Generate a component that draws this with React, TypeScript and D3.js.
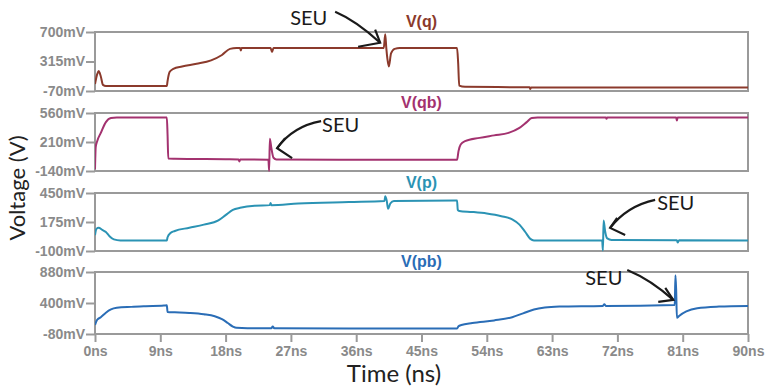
import React, { useEffect, useRef } from "react";
import * as d3 from "d3";

// [time ns, voltage mV]
const qPoints: [number, number][] = [
  [0, 20], [0.3, 150], [0.5, 190], [0.8, 120], [1.1, 10], [1.5, -5], [9.9, -5], [10.0, 60],
  [10.3, 180], [10.8, 220], [12, 250], [14, 285], [16, 330], [17.5, 400], [18.6, 480], [19.5, 490],
  [20.0, 490], [20.1, 460], [20.2, 490], [24.2, 490], [24.4, 440], [24.6, 490], [39.8, 490],
  [40.0, 670], [40.15, 490], [40.3, 350], [40.5, 250], [40.8, 420], [41.3, 480], [42, 490],
  [49.9, 490], [50.05, 300], [50.2, 0], [51, -15], [59.9, -22], [60, -45], [60.1, -25], [90, -25],
];
const qbPoints: [number, number][] = [
  [0, -120], [0.1, 150], [0.3, 220], [0.8, 320], [1.5, 450], [2.2, 500], [3, 505], [9.9, 505],
  [10.0, 300], [10.1, 10], [11, 8], [18, 2], [19.8, 0], [19.9, -25], [20.0, 0], [23.9, -3],
  [24.0, -140], [24.1, 250], [24.3, 140], [24.6, 20], [25, 0], [40, -4], [49.9, -5], [50.1, 100],
  [50.4, 180], [51, 220], [53, 260], [55, 290], [57, 320], [58.5, 380], [59.5, 450], [60.2, 500],
  [61, 505], [70.4, 505], [70.5, 490], [70.6, 505], [80.1, 505], [80.2, 470], [80.3, 505], [90, 505],
];
const pPoints: [number, number][] = [
  [0, 50], [0.2, 110], [0.5, 120], [1, 100], [1.5, 80], [2, 40], [2.6, 10], [3.5, 0], [9.9, 0],
  [10.0, 30], [10.4, 70], [11, 90], [13, 120], [15, 150], [17, 190], [18, 240], [19, 290], [20, 310],
  [22, 330], [24.1, 335], [24.2, 355], [24.3, 335], [28, 350], [35, 365], [39.9, 375], [40.0, 420],
  [40.2, 380], [40.4, 300], [40.7, 350], [41.2, 375], [49.9, 378], [50.0, 290], [50.2, 280],
  [52, 270], [54, 255], [56, 230], [57.5, 200], [58.5, 150], [59.3, 80], [60, 15], [60.5, 0],
  [69.9, 0], [70.0, -95], [70.1, 190], [70.3, 90], [70.6, 20], [71.2, 5], [80.2, 3], [80.3, -20],
  [80.5, 3], [90, 0],
];
const pbPoints: [number, number][] = [
  [0, 60], [0.3, 140], [0.8, 180], [1.5, 250], [2.2, 300], [3, 325], [5, 340], [7, 350], [9.5, 360],
  [9.9, 365], [10.0, 260], [11, 255], [13, 245], [15, 225], [16.5, 195], [17.5, 150], [18.3, 90],
  [19, 35], [19.5, 15], [21, 10], [24.3, 10], [24.5, 35], [24.7, 10], [35, 5], [49.9, 5], [50.1, 40],
  [50.5, 60], [52, 90], [55, 130], [57.5, 180], [59, 240], [60.5, 300], [62, 330], [64, 345],
  [70, 355], [70.2, 380], [70.4, 355], [79.9, 370], [80.0, 830], [80.1, 600], [80.2, 170],
  [80.5, 200], [81.5, 270], [83, 320], [86, 345], [90, 355],
];

const seriesNames = ["V(q)", "V(qb)", "V(p)", "V(pb)"];
const seriesData = [qPoints, qbPoints, pPoints, pbPoints];
const yTicks = [[-70, 315, 700], [-140, 210, 560], [-100, 175, 450], [-80, 400, 880]];
const xTicks = [0, 9, 18, 27, 36, 45, 54, 63, 72, 81, 90];

// SEU markers: panel index, arrow tip [ns, mV]
const seuPanel = [0, 1, 2, 3];
const seuTip: [number, number][] = [[39.3, 560], [25.1, 136], [71.0, 119], [79.7, 448]];

const colors = ["#8b3a2c", "#a3326f", "#2b93b4", "#2a6db6"];
const panelBox = [[32, 91], [113, 171], [193, 251], [272, 334]];
const left = 95, right = 748;

// pixel shapes of the hand drawn arrows, relative to tip
const seuShape = [
  { text: [-90, -18], shaft: "M-45,-31 Q-24,-22 0,0", head: "M-5,-13 L0,0 L-22,4" },
  { text: [45, -16], shaft: "M44,-27 Q16,-22 0,0", head: "M8,-10 L0,0 L15,10" },
  { text: [47, -18], shaft: "M45,-28 Q17,-22 0,0", head: "M7,-10 L0,0 L15,7" },
  { text: [-88, -15], shaft: "M-46,-30 Q-22,-20 0,0", head: "M-8,-12 L0,0 L-15,2" },
];

const tickFont = "bold 14px 'Liberation Sans', Arial, sans-serif";

export default function App() {
  const ref = useRef<SVGSVGElement>(null);

  useEffect(() => {
    const svg = d3.select(ref.current);
    svg.selectAll("*").remove();
    const x = d3.scaleLinear().domain([0, 90]).range([left, right]);
    const defs = svg.append("defs");
    const ys: d3.ScaleLinear<number, number>[] = [];

    seriesData.forEach((data, i) => {
      const [top, bottom] = panelBox[i];
      const ticks = yTicks[i];
      const y = d3.scaleLinear().domain([ticks[0], ticks[2]]).range([bottom, top]);
      ys.push(y);
      const g = svg.append("g");

      defs.append("clipPath").attr("id", "clip" + i)
        .append("rect").attr("x", left).attr("y", top - 1).attr("width", right - left).attr("height", bottom - top + 2);

      g.append("rect")
        .attr("x", left).attr("y", top).attr("width", right - left).attr("height", bottom - top)
        .attr("fill", "none").attr("stroke", "#9a9a9a").attr("stroke-width", 2);

      const ya = g.append("g").attr("transform", `translate(${left},0)`)
        .call(d3.axisLeft(y).tickValues(ticks).tickSize(9).tickFormat(d => `${d}mV`));
      ya.select(".domain").remove();
      ya.selectAll("line").attr("stroke", "#9a9a9a").attr("stroke-width", 2);
      ya.selectAll("text").attr("x", -10).attr("fill", "#8a8a8a").style("font", tickFont);

      g.append("path").datum(data)
        .attr("clip-path", `url(#clip${i})`)
        .attr("fill", "none").attr("stroke", colors[i]).attr("stroke-width", 2)
        .attr("d", d3.line().x(d => x(d[0])).y(d => y(d[1])).curve(d3.curveMonotoneX));

      g.append("text").attr("x", (left + right) / 2).attr("y", top - 5)
        .attr("text-anchor", "middle").attr("fill", colors[i])
        .style("font", "bold 16px 'Liberation Sans', Arial, sans-serif")
        .text(seriesNames[i]);
    });

    const xa = svg.append("g").attr("transform", `translate(0,${panelBox[3][1]})`)
      .call(d3.axisBottom(x).tickValues(xTicks).tickSize(8).tickFormat(d => `${d}ns`));
    xa.select(".domain").remove();
    xa.selectAll("line").attr("stroke", "#9a9a9a").attr("stroke-width", 2);
    xa.selectAll("text").attr("y", 12).attr("fill", "#8a8a8a").style("font", tickFont);

    seuTip.forEach((tip, k) => {
      const p = seuPanel[k];
      const tx = x(tip[0]), ty = ys[p](tip[1]);
      const s = seuShape[k];
      const g = svg.append("g").attr("transform", `translate(${tx},${ty})`);
      g.append("path").attr("d", s.shaft).attr("fill", "none").attr("stroke", "#1a1a1a").attr("stroke-width", 2.2);
      g.append("path").attr("d", s.head).attr("fill", "none").attr("stroke", "#1a1a1a").attr("stroke-width", 2.2);
      g.append("text").attr("x", s.text[0]).attr("y", s.text[1]).attr("fill", "#1a1a1a")
        .style("font", "20px Lato, sans-serif").text("SEU");
    });

    svg.append("text").attr("transform", "translate(25,188) rotate(-90)")
      .attr("text-anchor", "middle").attr("fill", "#222")
      .style("font", "22px Lato, sans-serif").text("Voltage (V)");
    svg.append("text").attr("x", 394).attr("y", 382)
      .attr("text-anchor", "middle").attr("fill", "#222")
      .style("font", "24px Lato, sans-serif").text("Time (ns)");
  }, []);

  return (
    <svg ref={ref} width={766} height={389}
      style={{ position: "absolute", left: 0, top: 0, background: "white" }} />
  );
}
